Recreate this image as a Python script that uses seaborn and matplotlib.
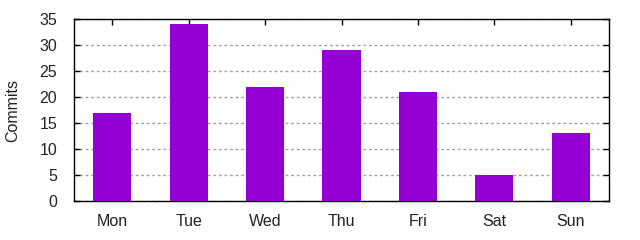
import matplotlib
matplotlib.use("Agg")
import matplotlib.pyplot as plt
import seaborn as sns
import pandas as pd

days = ["Mon", "Tue", "Wed", "Thu", "Fri", "Sat", "Sun"]
commits = [17, 34, 22, 29, 21, 5, 13]
y_ticks = [0, 5, 10, 15, 20, 25, 30, 35]

sns.set_theme(style="white")
plt.rcParams['font.family'] = ['Liberation Sans', 'DejaVu Sans']

df = pd.DataFrame({"day": days, "commits": commits})

fig = plt.figure(figsize=(6.4, 2.4), dpi=100)
ax = fig.add_axes([74/640, 39/240, 535/640, 182/240])
sns.barplot(data=df, x="day", y="commits", color="#9400D3", saturation=1,
            width=0.5, ax=ax, zorder=3, linewidth=0, edgecolor="none")
ax.set_xlim(-0.5, 6.5)
ax.set_ylim(0, 35)
ax.set_yticks(y_ticks)
ax.set_xlabel("")
ax.set_ylabel("Commits", fontsize=11.5, color="#222222", labelpad=14)
ax.yaxis.grid(True, linestyle=(0, (2, 2)), color="#a0a0a0", linewidth=1, zorder=0)
ax.set_axisbelow(True)
for s in ax.spines.values():
    s.set_visible(True)
    s.set_color("black")
    s.set_linewidth(1)
ax.tick_params(axis="both", direction="in", length=4, width=1, color="black",
               labelsize=11.5, labelcolor="#222222", top=True, right=True,
               bottom=True, left=True)
ax.tick_params(axis="x", pad=9)
ax.tick_params(axis="y", pad=12)
fig.savefig("out.png", dpi=100)
